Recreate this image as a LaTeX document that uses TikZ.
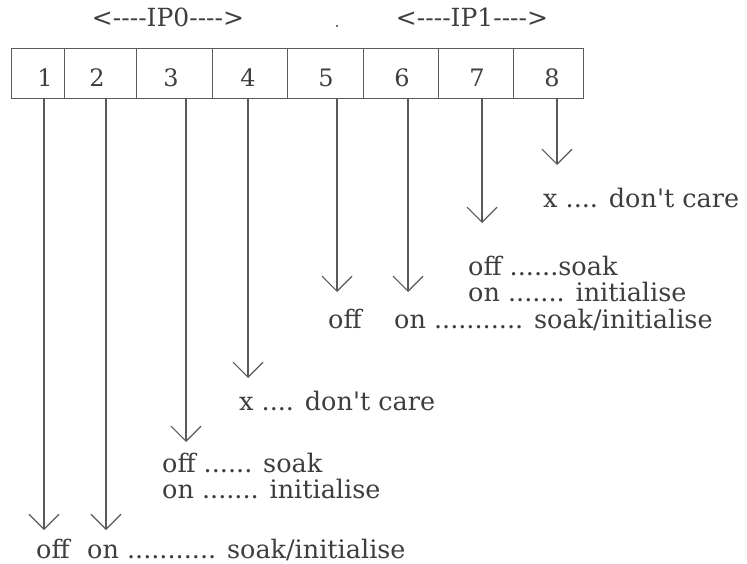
\documentclass[tikz,border=0pt]{standalone}
\usepackage{fontspec}
\setmainfont{DejaVu Serif}
\usetikzlibrary{arrows.meta}
\definecolor{ink}{RGB}{62,62,62}
\definecolor{wire}{RGB}{90,90,90}
\newcommand{\dsh}{{-}{-}{-}{-}}
\newcommand{\apo}{\textquotesingle}
\tikzset{
  lbl/.style={anchor=base west, inner sep=0pt, text=ink, font=\fontsize{25.5}{27}\selectfont},
  digit/.style={anchor=base, inner sep=0pt, text=ink, font=\fontsize{24}{25}\selectfont},
  iplbl/.style={anchor=base, inner sep=0pt, text=ink, font=\fontsize{25}{26}\selectfont},
  cell/.style={draw=wire, line width=1.1pt, anchor=north west, inner sep=0pt, minimum height=50pt},
  pin/.style={draw=wire, line width=1.1pt, -{Straight Barb[length=15pt,width=30pt,line width=1.1pt]}},
}
\begin{document}
\begin{tikzpicture}[x=1pt,y=-1pt]
\useasboundingbox (0,0) rectangle (747,564);
% header labels
\node[iplbl] (ip0) at (168,27) {<\dsh IP0\dsh>};
\node[iplbl] (ip1) at (472,27) {<\dsh IP1\dsh>};
\fill[ink] (337,26) circle (1.2pt);
% cells
\node[cell, minimum width=53pt] (c1) at (11,48) {};
\node[cell, minimum width=72pt] (c2) at (64,48) {};
\node[cell, minimum width=76pt] (c3) at (136,48) {};
\node[cell, minimum width=75pt] (c4) at (212,48) {};
\node[cell, minimum width=76pt] (c5) at (287,48) {};
\node[cell, minimum width=75pt] (c6) at (363,48) {};
\node[cell, minimum width=75pt] (c7) at (438,48) {};
\node[cell, minimum width=70pt] (c8) at (513,48) {};
% digits
\node[digit] (d1) at (45,87) {1};
\node[digit] (d2) at (97,87) {2};
\node[digit] (d3) at (171,87) {3};
\node[digit] (d4) at (248,87) {4};
\node[digit] (d5) at (326,87) {5};
\node[digit] (d6) at (402,87) {6};
\node[digit] (d7) at (477,87) {7};
\node[digit] (d8) at (552,87) {8};
% arrow start points (bottom of box) and tips
\coordinate (s1) at (44,98);   \coordinate (t1) at (44,530);
\coordinate (s2) at (106,98);  \coordinate (t2) at (106,530);
\coordinate (s3) at (186,98);  \coordinate (t3) at (186,442);
\coordinate (s4) at (248,98);  \coordinate (t4) at (248,378);
\coordinate (s5) at (337,98);  \coordinate (t5) at (337,292);
\coordinate (s6) at (408,98);  \coordinate (t6) at (408,292);
\coordinate (s7) at (482,98);  \coordinate (t7) at (482,223);
\coordinate (s8) at (557,98);  \coordinate (t8) at (557,165);
\foreach \i in {1,...,8} {\draw[pin] (s\i) -- (t\i);}
% labels
\node[lbl] (xR) at (543,208) {x .... don\apo t care};
\node[lbl] (offR) at (468,275) {off ......soak};
\node[lbl] (onR) at (468,301) {on ....... initialise};
\node[lbl] (off5) at (328,328) {off};
\node[lbl] (on6) at (394,328) {on ........... soak/initialise};
\node[lbl] (xL) at (239,410) {x .... don\apo t care};
\node[lbl] (offL) at (162,472) {off ...... soak};
\node[lbl] (onL) at (162,498) {on ....... initialise};
\node[lbl] (off1) at (36,558) {off};
\node[lbl] (on2) at (87,558) {on ........... soak/initialise};
\end{tikzpicture}
\end{document}
